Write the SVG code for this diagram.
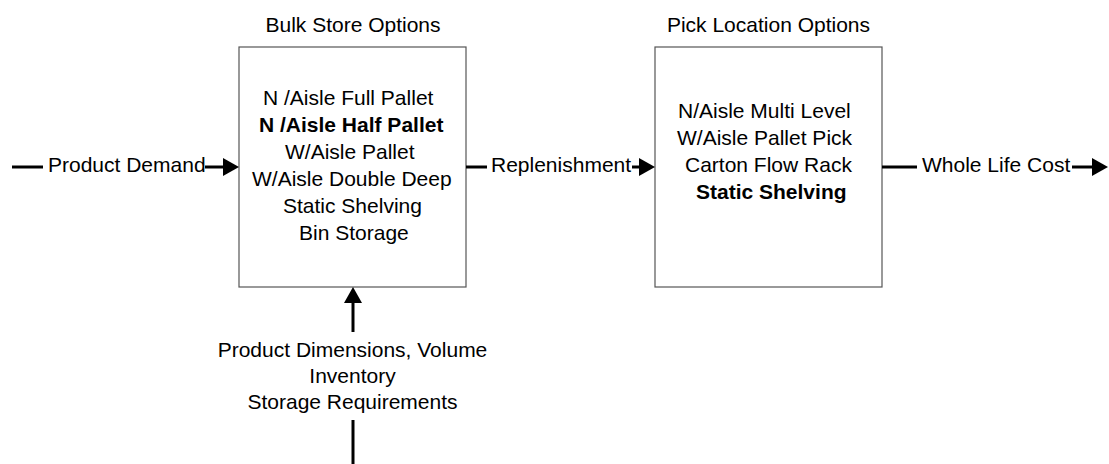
<svg xmlns="http://www.w3.org/2000/svg" width="1109" height="464" viewBox="0 0 1109 464">
<style>
text{font-family:"Liberation Sans",Arial,sans-serif;font-size:21px;fill:#000}
.b{font-weight:bold}
.m{text-anchor:middle}
.box{fill:#fff;stroke:#555;stroke-width:1.2}
.c{fill:none;stroke:#000;stroke-width:3}
</style>
<defs>
<marker id="ah" markerUnits="userSpaceOnUse" markerWidth="16" markerHeight="18" refX="5" refY="9" orient="auto" viewBox="0 0 16 18">
<path d="M0,0 L16,9 L0,18 Z" fill="#000"/>
</marker>
</defs>
<rect width="1109" height="464" fill="#fff"/>
<g id="bulk">
<text class="m" x="353" y="32">Bulk Store Options</text>
<rect class="box" x="239" y="47" width="227" height="240"/>
<text x="263" y="105">N /Aisle Full Pallet</text>
<text class="b" x="259" y="132">N /Aisle Half Pallet</text>
<text x="285" y="159">W/Aisle Pallet</text>
<text x="252" y="186">W/Aisle Double Deep</text>
<text x="283" y="213">Static Shelving</text>
<text x="299" y="240">Bin Storage</text>
</g>
<g id="pick">
<text class="m" x="768.5" y="32">Pick Location Options</text>
<rect class="box" x="655" y="47" width="227" height="240"/>
<text x="678" y="118">N/Aisle Multi Level</text>
<text x="677" y="145">W/Aisle Pallet Pick</text>
<text x="685" y="172">Carton Flow Rack</text>
<text class="b" x="696" y="199">Static Shelving</text>
</g>
<g id="connectors">
<line class="c" x1="12" y1="167" x2="43" y2="167"/>
<text x="48" y="172">Product Demand</text>
<line class="c" x1="205" y1="167" x2="228" y2="167" marker-end="url(#ah)"/>
<line class="c" x1="466" y1="167" x2="487" y2="167"/>
<text x="491" y="172">Replenishment</text>
<line class="c" x1="632" y1="167" x2="644" y2="167" marker-end="url(#ah)"/>
<line class="c" x1="882" y1="167" x2="917" y2="167"/>
<text x="922" y="172">Whole Life Cost</text>
<line class="c" x1="1072" y1="167" x2="1097" y2="167" marker-end="url(#ah)"/>
<line class="c" x1="353" y1="332" x2="353" y2="298" marker-end="url(#ah)"/>
<text class="m" x="352.5" y="357">Product Dimensions, Volume</text>
<text class="m" x="352.5" y="383">Inventory</text>
<text class="m" x="352.5" y="409">Storage Requirements</text>
<line class="c" x1="353" y1="420" x2="353" y2="464"/>
</g>
</svg>
